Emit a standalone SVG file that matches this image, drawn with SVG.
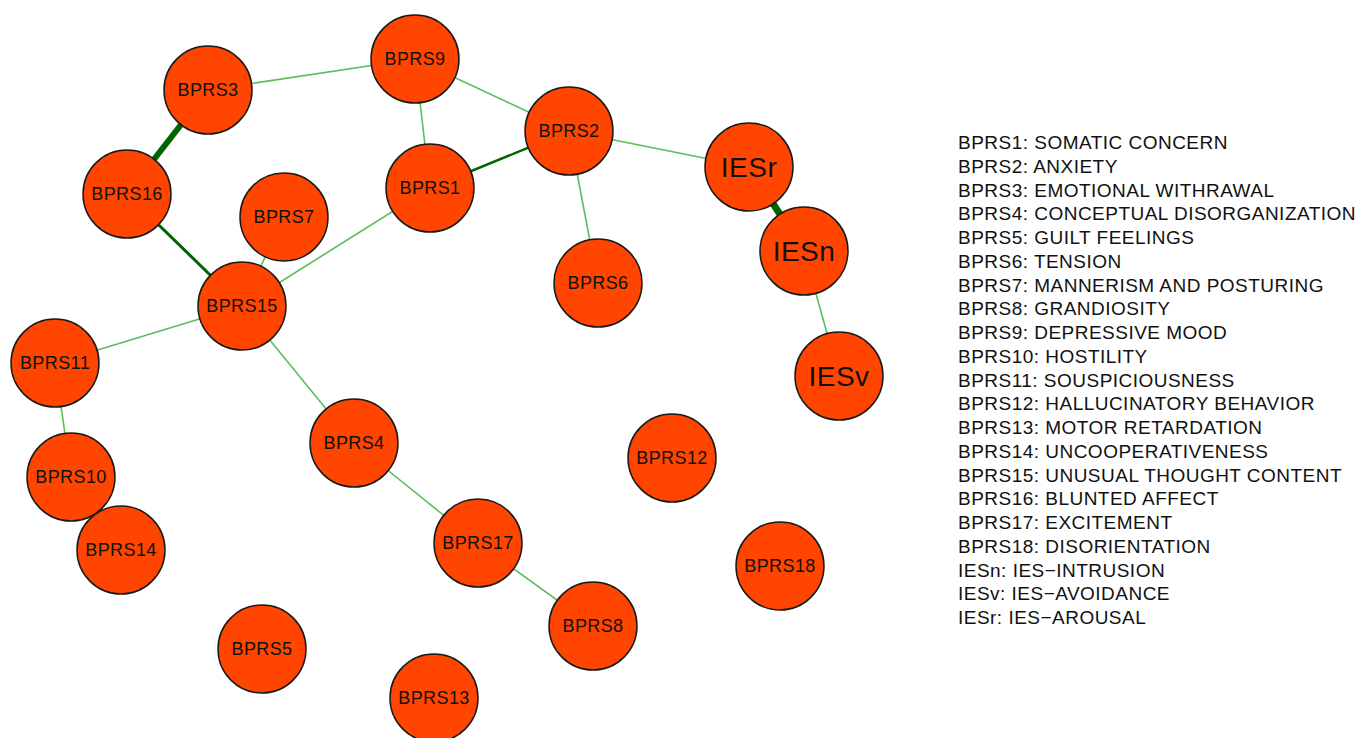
<svg xmlns="http://www.w3.org/2000/svg" width="1357" height="738" viewBox="0 0 1357 738">
<style>
.n circle{fill:#ff4500;stroke:#1a1a1a;stroke-width:1.5}
.n text{font-family:"Liberation Sans",Arial,sans-serif;font-size:18px;text-anchor:middle;fill:#111;letter-spacing:0.4px}
.n text.big{font-size:28px;letter-spacing:0.5px}
.e line{stroke:#5cbd5c;stroke-width:1.6}
.e line.d{stroke:#006400}
.lg text{font-family:"Liberation Sans",Arial,sans-serif;font-size:19px;fill:#111;letter-spacing:0.48px}
</style>
<rect width="1357" height="738" fill="#fff"/>
<g id="connectors" class="e">
<line x1="208" y1="90" x2="415" y2="59"/>
<line class="d" x1="208" y1="90" x2="127" y2="194" style="stroke-width:6"/>
<line x1="415" y1="59" x2="430" y2="188"/>
<line x1="415" y1="59" x2="569" y2="131"/>
<line class="d" x1="430" y1="188" x2="569" y2="131" style="stroke-width:2.5"/>
<line class="d" x1="127" y1="194" x2="242" y2="306" style="stroke-width:3"/>
<line x1="284" y1="217" x2="242" y2="306"/>
<line x1="430" y1="188" x2="242" y2="306"/>
<line x1="242" y1="306" x2="55" y2="363"/>
<line x1="242" y1="306" x2="354" y2="443"/>
<line x1="55" y1="363" x2="71" y2="477"/>
<line class="d" x1="71" y1="477" x2="121" y2="550" style="stroke-width:2"/>
<line x1="569" y1="131" x2="749" y2="167"/>
<line x1="569" y1="131" x2="598" y2="283"/>
<line class="d" x1="749" y1="167" x2="804" y2="251" style="stroke-width:7"/>
<line x1="804" y1="251" x2="839" y2="376"/>
<line x1="354" y1="443" x2="478" y2="543"/>
<line x1="478" y1="543" x2="593" y2="626"/>
</g>
<g id="BPRS9" class="n"><circle cx="415" cy="59" r="44"/><text x="415" y="65">BPRS9</text></g>
<g id="BPRS3" class="n"><circle cx="208" cy="90" r="44"/><text x="208" y="96">BPRS3</text></g>
<g id="BPRS16" class="n"><circle cx="127" cy="194" r="44"/><text x="127" y="200">BPRS16</text></g>
<g id="BPRS7" class="n"><circle cx="284" cy="217" r="44"/><text x="284" y="223">BPRS7</text></g>
<g id="BPRS1" class="n"><circle cx="430" cy="188" r="44"/><text x="430" y="194">BPRS1</text></g>
<g id="BPRS2" class="n"><circle cx="569" cy="131" r="44"/><text x="569" y="137">BPRS2</text></g>
<g id="BPRS6" class="n"><circle cx="598" cy="283" r="44"/><text x="598" y="289">BPRS6</text></g>
<g id="BPRS15" class="n"><circle cx="242" cy="306" r="44"/><text x="242" y="312">BPRS15</text></g>
<g id="BPRS11" class="n"><circle cx="55" cy="363" r="44"/><text x="55" y="369">BPRS11</text></g>
<g id="BPRS10" class="n"><circle cx="71" cy="477" r="44"/><text x="71" y="483">BPRS10</text></g>
<g id="BPRS14" class="n"><circle cx="121" cy="550" r="44"/><text x="121" y="556">BPRS14</text></g>
<g id="BPRS4" class="n"><circle cx="354" cy="443" r="44"/><text x="354" y="449">BPRS4</text></g>
<g id="BPRS17" class="n"><circle cx="478" cy="543" r="44"/><text x="478" y="549">BPRS17</text></g>
<g id="BPRS8" class="n"><circle cx="593" cy="626" r="44"/><text x="593" y="632">BPRS8</text></g>
<g id="BPRS5" class="n"><circle cx="262" cy="649" r="44"/><text x="262" y="655">BPRS5</text></g>
<g id="BPRS13" class="n"><circle cx="434" cy="698" r="44"/><text x="434" y="704">BPRS13</text></g>
<g id="BPRS12" class="n"><circle cx="672" cy="458" r="44"/><text x="672" y="464">BPRS12</text></g>
<g id="BPRS18" class="n"><circle cx="780" cy="566" r="44"/><text x="780" y="572">BPRS18</text></g>
<g id="IESr" class="n"><circle cx="749" cy="167" r="44"/><text class="big" x="749" y="177">IESr</text></g>
<g id="IESn" class="n"><circle cx="804" cy="251" r="44"/><text class="big" x="804" y="261">IESn</text></g>
<g id="IESv" class="n"><circle cx="839" cy="376" r="44"/><text class="big" x="839" y="386">IESv</text></g>
<g id="legend" class="lg">
<text x="958" y="149">BPRS1: SOMATIC CONCERN</text>
<text x="958" y="172.75">BPRS2: ANXIETY</text>
<text x="958" y="196.5">BPRS3: EMOTIONAL WITHRAWAL</text>
<text x="958" y="220.25">BPRS4: CONCEPTUAL DISORGANIZATION</text>
<text x="958" y="244">BPRS5: GUILT FEELINGS</text>
<text x="958" y="267.75">BPRS6: TENSION</text>
<text x="958" y="291.5">BPRS7: MANNERISM AND POSTURING</text>
<text x="958" y="315.25">BPRS8: GRANDIOSITY</text>
<text x="958" y="339">BPRS9: DEPRESSIVE MOOD</text>
<text x="958" y="362.75">BPRS10: HOSTILITY</text>
<text x="958" y="386.5">BPRS11: SOUSPICIOUSNESS</text>
<text x="958" y="410.25">BPRS12: HALLUCINATORY BEHAVIOR</text>
<text x="958" y="434">BPRS13: MOTOR RETARDATION</text>
<text x="958" y="457.75">BPRS14: UNCOOPERATIVENESS</text>
<text x="958" y="481.5">BPRS15: UNUSUAL THOUGHT CONTENT</text>
<text x="958" y="505.25">BPRS16: BLUNTED AFFECT</text>
<text x="958" y="529">BPRS17: EXCITEMENT</text>
<text x="958" y="552.75">BPRS18: DISORIENTATION</text>
<text x="958" y="576.5">IESn: IES−INTRUSION</text>
<text x="958" y="600.25">IESv: IES−AVOIDANCE</text>
<text x="958" y="624">IESr: IES−AROUSAL</text>
</g>
</svg>
